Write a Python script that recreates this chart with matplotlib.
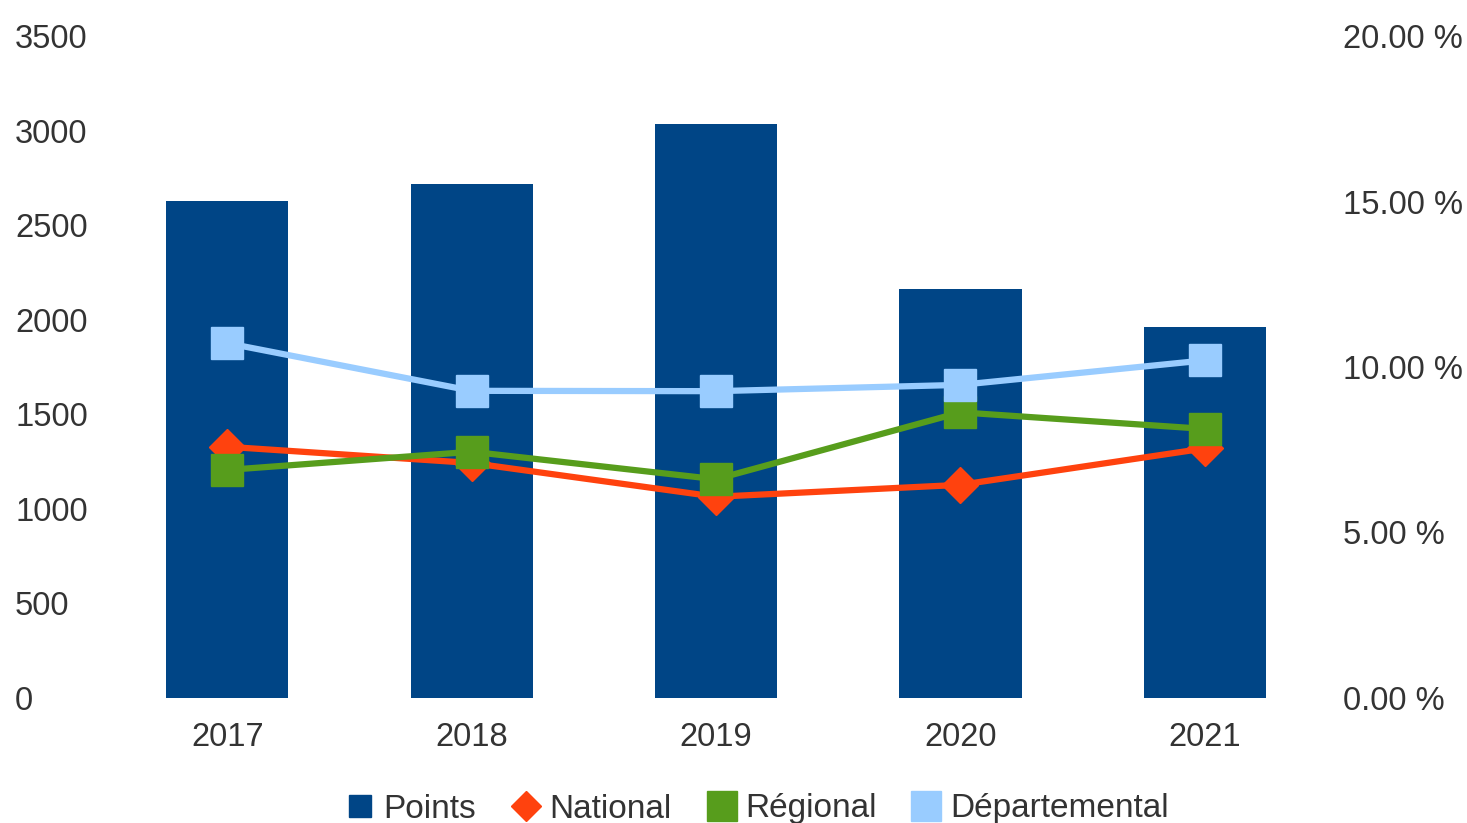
import matplotlib
matplotlib.use("Agg")
import matplotlib.pyplot as plt
from matplotlib.lines import Line2D

plt.rcParams['font.family'] = ['Liberation Sans', 'DejaVu Sans']

annees = ['2017', '2018', '2019', '2020', '2021']
points = [2629, 2718, 3033, 2161, 1960]
national = [7.59, 7.10, 6.08, 6.44, 7.54]
regional = [6.89, 7.44, 6.61, 8.63, 8.13]
departemental = [10.72, 9.28, 9.27, 9.46, 10.20]

c_points = '#004586'
c_nat = '#ff420e'
c_reg = '#579d1c'
c_dep = '#99ccff'
txt = '#333333'

fig = plt.figure(figsize=(14.67, 8.23), dpi=100)
ax = fig.add_axes([105 / 1467, 125 / 823, 1222 / 1467, 662 / 823])
x = list(range(len(annees)))
ax.bar(x, points, width=0.5, color=c_points, zorder=1)
ax.set_xlim(-0.5, 4.5)
ax.set_ylim(0, 3500)
ax.set_yticks(range(0, 3501, 500))
ax.set_xticks(x)
ax.set_xticklabels(annees)
ax.tick_params(axis='y', length=0, pad=64.8, labelsize=23.5, labelcolor=txt)
ax.tick_params(axis='x', length=0, pad=17.5, labelsize=23.5, labelcolor=txt)
for lab in ax.get_yticklabels():
    lab.set_horizontalalignment('left')
for s in ax.spines.values():
    s.set_visible(False)

ax2 = ax.twinx()
ax2.plot(x, national, color=c_nat, lw=4.5, marker='D', ms=18, zorder=2)
ax2.plot(x, regional, color=c_reg, lw=4.5, marker='s', ms=23.5, zorder=3)
ax2.plot(x, departemental, color=c_dep, lw=4.5, marker='s', ms=23.5, zorder=4)
ax2.set_ylim(0, 20)
ax2.set_yticks([0, 5, 10, 15, 20])
ax2.set_yticklabels(['%.2f %%' % v for v in [0, 5, 10, 15, 20]])
ax2.tick_params(axis='y', length=0, pad=11.5, labelsize=23.5, labelcolor=txt)
for s in ax2.spines.values():
    s.set_visible(False)

handles = [
    Line2D([], [], ls='none', marker='s', ms=16, color=c_points),
    Line2D([], [], ls='none', marker='D', ms=15, color=c_nat),
    Line2D([], [], ls='none', marker='s', ms=21, color=c_reg),
    Line2D([], [], ls='none', marker='s', ms=21, color=c_dep),
]
fig.legend(handles, ['Points', 'National', 'Régional', 'Départemental'],
           loc='center', bbox_to_anchor=(0.5164, 14 / 823), ncol=4, frameon=False,
           fontsize=24, handlelength=0.8, handletextpad=0.3, columnspacing=1.1,
           labelcolor=txt)

fig.savefig('out.png', dpi=100)
